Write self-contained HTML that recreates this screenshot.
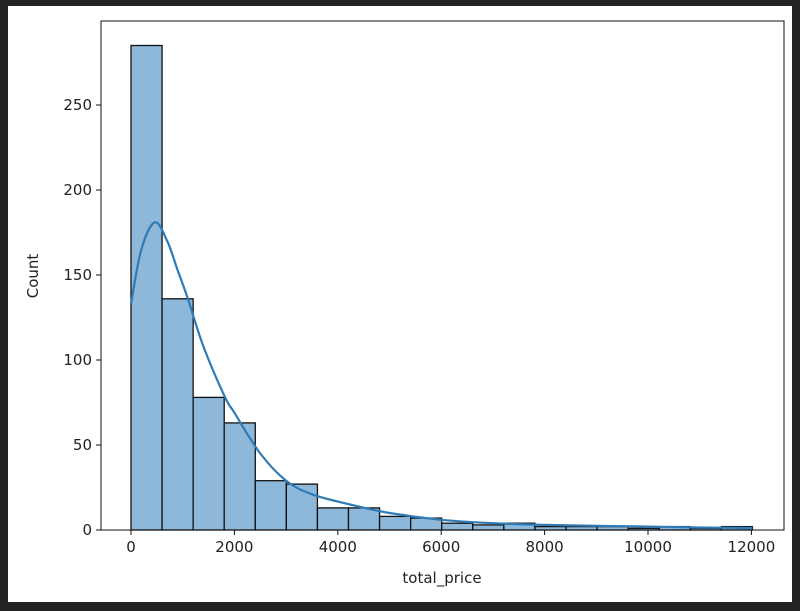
<!DOCTYPE html>
<html><head><meta charset="utf-8"><style>
html,body{margin:0;padding:0;background:#fff}
body{width:800px;height:611px;overflow:hidden;position:relative}
#frame{position:absolute;left:0;top:0;width:800px;height:611px;box-sizing:border-box;border-left:8px solid #222;border-top:6px solid #222;border-right:8px solid #222;border-bottom:9px solid #222}
svg{position:absolute;left:0;top:0}
text{font-family:"DejaVu Sans","Liberation Sans",sans-serif;font-size:15px;fill:#222}
</style></head><body>
<div id="frame"></div>
<svg id="chart" width="800" height="611"></svg>
<script>
const binStart = 0;
const binWidth = 601;
const counts = [285,136,78,63,29,27,13,13,8,7,4,3,4,2,2,2,1,2,1,2];
const kdeX = [0,200,460,700,900,1100,1400,1820,2000,2500,3000,3500,4240,5000,6000,7000,8000,9000,10000,11000,12020];
const kdeY = [133,165,181,170,153,136,108,78,69,45,29,21,15,10,6,4,3,2.5,2,1.5,1.2];
const xTicks = [0,2000,4000,6000,8000,10000,12000];
const yTicks = [0,50,100,150,200,250];

const NS="http://www.w3.org/2000/svg";
const svg=document.getElementById('chart');
const L=101,R=784,T=21,B=530;
const sx=v=>131+v*0.0517;
const sy=v=>B-v*1.7;
function mk(t,a){const e=document.createElementNS(NS,t);for(const k in a)e.setAttribute(k,a[k]);svg.appendChild(e);return e;}

counts.forEach((c,i)=>{
  const x0=sx(binStart+i*binWidth),x1=sx(binStart+(i+1)*binWidth);
  const r=mk('rect',{x:x0,y:sy(c),width:x1-x0,height:B-sy(c),fill:'#8db8da',stroke:'#111','stroke-width':1.3});
  
  
});
const pts=kdeX.map((x,i)=>[sx(x),sy(kdeY[i])]);
let d='M'+pts[0][0].toFixed(1)+','+pts[0][1].toFixed(1);
for(let i=0;i<pts.length-1;i++){
  const p0=pts[Math.max(0,i-1)],p1=pts[i],p2=pts[i+1],p3=pts[Math.min(pts.length-1,i+2)];
  const c1=[p1[0]+(p2[0]-p0[0])/6,p1[1]+(p2[1]-p0[1])/6];
  const c2=[p2[0]-(p3[0]-p1[0])/6,p2[1]-(p3[1]-p1[1])/6];
  d+='C'+c1.map(v=>v.toFixed(1)).join(',')+' '+c2.map(v=>v.toFixed(1)).join(',')+' '+p2.map(v=>v.toFixed(1)).join(',');
}
const p=mk('path',{d:d,fill:'none',stroke:'#2f7bb6','stroke-width':2.2,'stroke-linejoin':'round'});



const ax=mk('rect',{x:L,y:T,width:R-L,height:B-T,fill:'none',stroke:'#111','stroke-width':1});



xTicks.forEach(v=>{
  mk('line',{x1:sx(v),x2:sx(v),y1:B,y2:B+5,stroke:'#111'});
  const t=mk('text',{x:sx(v),y:B+22,'text-anchor':'middle'});t.textContent=v;
  
  
});
yTicks.forEach(v=>{
  mk('line',{x1:L-5,x2:L,y1:sy(v),y2:sy(v),stroke:'#111'});
  const t=mk('text',{x:L-9,y:sy(v)+5,'text-anchor':'end'});t.textContent=v;
  
  
});
const xl=mk('text',{x:442,y:583,'text-anchor':'middle'});xl.textContent='total_price';


const yl=mk('text',{x:38,y:276,'text-anchor':'middle',transform:'rotate(-90 38 276)'});yl.textContent='Count';


</script>
</body></html>
